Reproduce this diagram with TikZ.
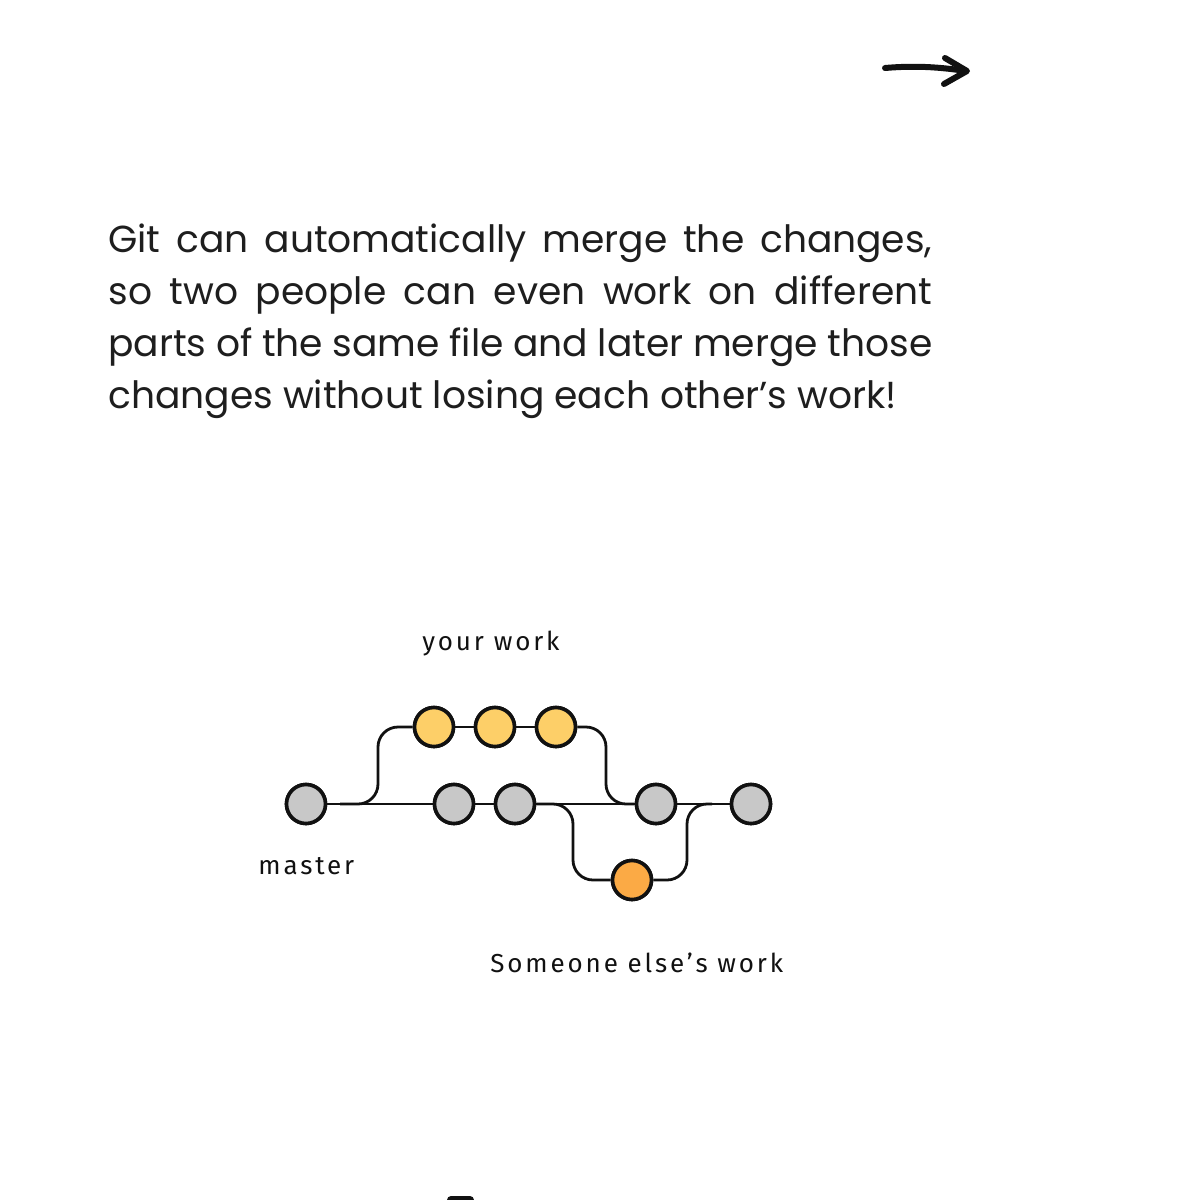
\documentclass[tikz,border=0pt]{standalone}
\usepackage{fontspec}
\setmainfont{Poppins}
\newfontfamily\handfont[LetterSpace=11]{Fira Sans}
\definecolor{txt}{HTML}{1E1E1E}
\definecolor{commitgray}{HTML}{C8C8C8}
\definecolor{commityellow}{HTML}{FDCF68}
\definecolor{commitorange}{HTML}{FBAA45}
\definecolor{edge}{HTML}{111111}
\begin{document}
\begin{tikzpicture}[x=0.5pt,y=-0.5pt,
  commit/.style={circle,draw=edge,line width=1.8pt,minimum size=19.5pt,inner sep=0pt},
  gc/.style={commit,fill=commitgray},
  yc/.style={commit,fill=commityellow},
  oc/.style={commit,fill=commitorange},
  branch/.style={draw=edge,line width=1.4pt,rounded corners=10pt},
  body/.style={anchor=base west,inner sep=0pt,text=txt,font=\fontsize{18.8}{26}\selectfont},
  hand/.style={anchor=base west,inner sep=0pt,text=edge,font=\handfont\fontsize{13}{16}\selectfont}]
\useasboundingbox[fill=white] (0,0) rectangle (1200,1200);

% top arrow
\draw[line width=3pt,line cap=round,edge] (885,68) .. controls (920,65) and (945,68) .. (966,71);
\draw[line width=3pt,line cap=round,line join=round,edge] (945,58) -- (967,71) -- (944,84);

% text
\node[body] (l1) at (108,252) {\makebox[412pt][s]{Git can automatically merge the changes,}};
\node[body] (l2) at (108,304) {\makebox[412pt][s]{so two people can even work on different}};
\node[body] (l3) at (108,356) {\makebox[412pt][s]{parts of the same file and later merge those}};
\node[body] (l4) at (108,408) {changes without losing each other’s work!};

% commits
\node[gc] (g1) at (306,804) {};
\node[gc] (g2) at (454,804) {};
\node[gc] (g3) at (515,804) {};
\node[gc] (g4) at (656,804) {};
\node[gc] (g5) at (751,804) {};
\node[yc] (y1) at (434,727) {};
\node[yc] (y2) at (495,727) {};
\node[yc] (y3) at (556,727) {};
\node[oc] (o1) at (632,880) {};

\coordinate (bs) at (340,804);
\coordinate (ms) at (712,804);

% main line
\draw[branch] (g1) -- (g2);
\draw[branch] (g2) -- (g3);
\draw[branch] (g3) -- (g4);
\draw[branch] (g4) -- (g5);
% your work
\draw[branch] (bs) -- (378,804) -- (378,727) -- (y1.west);
\draw[branch] (y1) -- (y2);
\draw[branch] (y2) -- (y3);
\draw[branch] (y3.east) -- (606,727) -- (606,804) -- (g4.west);
% someone else's work
\draw[branch] (g3.east) -- (573,804) -- (573,880) -- (o1.west);
\draw[branch] (o1.east) -- (687,880) -- (687,804) -- (ms);

% redraw commits on top
\foreach \n/\s in {g1/gc,g2/gc,g3/gc,g4/gc,g5/gc,y1/yc,y2/yc,y3/yc,o1/oc}
  \node[\s] at (\n) {};

% labels
\node[hand] (lyour) at (422,650) {your work};
\node[hand] (lmaster) at (258,874) {master};
\node[hand] (lsome) at (490,972) {Someone else’s work};

% bottom cut-off mark
\begin{scope}
\clip (0,0) rectangle (1200,1200);
\fill[edge,rounded corners=2pt] (447,1196) rectangle (474,1206);
\end{scope}
\end{tikzpicture}
\end{document}
